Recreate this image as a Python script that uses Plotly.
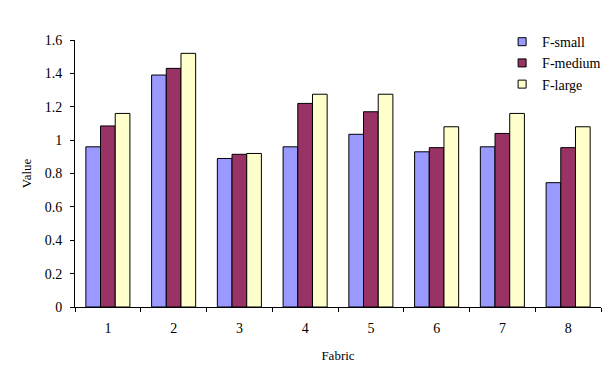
import plotly.graph_objects as go

categories = ["1", "2", "3", "4", "5", "6", "7", "8"]
f_small = [0.96, 1.39, 0.89, 0.96, 1.035, 0.93, 0.96, 0.745]
f_medium = [1.085, 1.43, 0.915, 1.22, 1.17, 0.955, 1.04, 0.955]
f_large = [1.16, 1.52, 0.92, 1.275, 1.275, 1.08, 1.16, 1.08]
series_names = ["F-small", "F-medium", "F-large"]
series_colors = ["#9999FF", "#993366", "#FFFFCC"]

FONT = "'Liberation Serif', 'Times New Roman', Times, serif"

fig = go.Figure()
for name, vals, col in zip(series_names, [f_small, f_medium, f_large], series_colors):
    fig.add_trace(go.Bar(
        name=name, x=categories, y=vals, showlegend=False,
        marker=dict(color=col, line=dict(color="#000000", width=1)),
    ))
# legend entries (square swatches)
for name, col in zip(series_names, series_colors):
    fig.add_trace(go.Scatter(
        name=name, x=[None], y=[None], mode="markers",
        marker=dict(symbol="square", size=8, color=col,
                    line=dict(color="#000000", width=1)),
    ))

fig.update_layout(
    width=603, height=365,
    margin=dict(l=67, r=10, t=32, b=66, autoexpand=False),
    paper_bgcolor="white", plot_bgcolor="white",
    barmode="group", bargap=0.33, bargroupgap=0,
    font=dict(family=FONT, size=14, color="#000000"),
    legend=dict(x=0.812, y=1.052, xanchor="left", yanchor="top",
                bgcolor="rgba(0,0,0,0)", font=dict(family=FONT, size=14),
                tracegroupgap=0, itemwidth=30),
    xaxis=dict(
        type="category", showline=True, linecolor="#000000", linewidth=1,
        ticks="outside", tickson="boundaries", ticklen=4, tickcolor="#000000",
        showgrid=False, zeroline=False, automargin=False,
        ticklabelstandoff=8,
        tickfont=dict(family=FONT, size=14),
        title=dict(text="Fabric", standoff=16, font=dict(family=FONT, size=13)),
    ),
    yaxis=dict(
        range=[0, 1.6], dtick=0.2, showline=True, linecolor="#000000", linewidth=1,
        ticks="outside", ticklen=4, tickcolor="#000000",
        showgrid=False, zeroline=False, automargin=False,
        ticklabelstandoff=5,
        tickfont=dict(family=FONT, size=14),
        title=dict(text="Value", standoff=10, font=dict(family=FONT, size=13)),
    ),
)

fig.write_html("out.html")
